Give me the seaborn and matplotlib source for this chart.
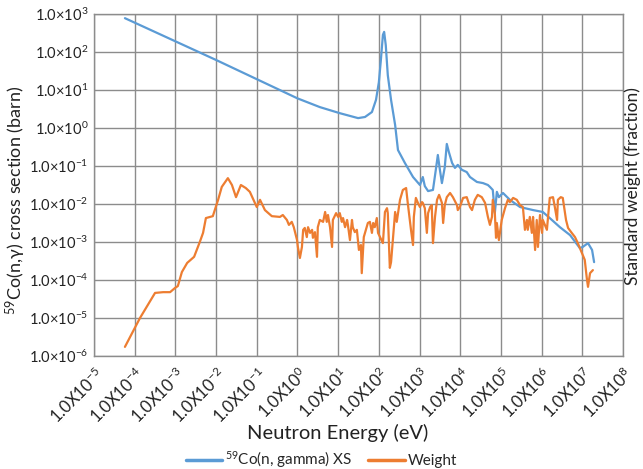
import numpy as np
import pandas as pd
import matplotlib
matplotlib.use("Agg")
import matplotlib.pyplot as plt
import seaborn as sns
from matplotlib.lines import Line2D

# ---- data (log10 values) ----
xs_log_e = [-4.24, -2.0, 0.0, 0.55, 1.04, 1.49, 1.66, 1.83, 1.93, 2.0, 2.05, 2.10, 2.13, 2.17, 2.22,
            2.30, 2.40, 2.47, 2.64, 2.84, 3.01, 3.08, 3.13, 3.21, 3.33, 3.40, 3.45, 3.50, 3.55,
            3.62, 3.67, 3.72, 3.80, 3.87, 3.94, 4.04, 4.16, 4.24, 4.41, 4.56, 4.68, 4.73, 4.80,
            4.85, 4.90, 4.95, 5.05, 5.22, 5.47, 5.79, 6.03, 6.20, 6.45, 6.70, 6.94, 7.01, 7.14,
            7.24, 7.29]
xs_log_v = [2.89, 1.79, 0.78, 0.55, 0.39, 0.26, 0.29, 0.42, 0.74, 1.2, 1.79, 2.45, 2.53, 2.18, 1.39,
            0.74, 0.08, -0.58, -0.92, -1.29, -1.5, -1.29, -1.53, -1.66, -1.63, -1.1, -0.71, -1.1, -1.45,
            -1.03, -0.42, -0.63, -0.92, -1.05, -0.97, -1.1, -1.16, -1.29, -1.42, -1.45, -1.5, -1.55, -1.63,
            -2.24, -1.68, -1.82, -1.71, -1.89, -2.08, -2.16, -2.21, -2.37, -2.61, -2.82, -3.16, -3.13, -3.03,
            -3.21, -3.53]

w_log_e = [-4.24, -3.87, -3.50, -3.30, -3.13, -3.01, -2.94, -2.84, -2.71, -2.54, -2.40, -2.32, -2.25,
           -2.08, -1.95, -1.86, -1.71, -1.61, -1.51, -1.39, -1.27, -1.17, -1.00, -0.92, -0.80, -0.63,
           -0.43, -0.36, -0.26, -0.21, -0.14, -0.09, -0.01, 0.01, 0.06, 0.11, 0.14, 0.18, 0.23, 0.26,
           0.31, 0.36, 0.38, 0.43, 0.48, 0.50, 0.55, 0.63, 0.68, 0.72, 0.75, 0.80, 0.85, 0.87, 0.95,
           1.00, 1.04, 1.09, 1.12, 1.17, 1.22, 1.24, 1.29, 1.34, 1.36, 1.41, 1.46, 1.51, 1.56, 1.58,
           1.63, 1.68, 1.73, 1.78, 1.83, 1.86, 1.90, 1.95, 1.98, 2.03, 2.10, 2.15, 2.20, 2.22, 2.27,
           2.30, 2.35, 2.40, 2.44, 2.52, 2.59, 2.67, 2.71, 2.79, 2.84, 2.86, 2.91, 2.96, 3.01, 3.06,
           3.08, 3.13, 3.18, 3.21, 3.26, 3.30, 3.33, 3.38, 3.43, 3.48, 3.55, 3.58, 3.62, 3.67, 3.75,
           3.82, 3.92, 3.94, 3.99, 4.07, 4.16, 4.24, 4.29, 4.36, 4.43, 4.53, 4.61, 4.68, 4.73, 4.78,
           4.80, 4.85, 4.88, 4.90, 4.95, 5.02, 5.10, 5.17, 5.22, 5.30, 5.39, 5.47, 5.54, 5.59, 5.64,
           5.66, 5.71, 5.76, 5.79, 5.84, 5.88, 5.91, 5.96, 6.01, 6.03, 6.13, 6.20, 6.28, 6.33, 6.38,
           6.40, 6.47, 6.52, 6.60, 6.65, 6.74, 6.82, 6.89, 6.99, 7.06, 7.11, 7.14, 7.19, 7.26]
w_log_v = [-5.76, -5.0, -4.34, -4.32, -4.32, -4.21, -4.16, -3.79, -3.55, -3.39, -3.0, -2.76, -2.37,
           -2.32, -1.89, -1.55, -1.32, -1.5, -1.82, -1.5, -1.58, -1.68, -2.08, -1.89, -2.16, -2.32,
           -2.34, -2.29, -2.42, -2.55, -2.47, -2.61, -2.95, -3.13, -3.42, -3.13, -2.68, -2.63, -2.87, -2.61,
           -2.76, -2.68, -2.89, -2.74, -3.39, -2.61, -2.42, -2.47, -2.21, -2.47, -2.29, -2.61, -3.13, -2.42, -2.24,
           -2.34, -2.24, -2.47, -2.37, -2.61, -2.42, -2.55, -2.95, -2.42, -2.61, -2.74, -2.68, -3.21, -3.08, -3.82,
           -2.87, -2.68, -2.50, -2.47, -2.76, -2.50, -2.61, -2.37, -2.76, -2.87, -3.03, -2.21, -2.11, -2.24, -3.68,
           -3.53, -2.87, -2.21, -2.47, -1.89, -1.63, -1.58, -1.97, -2.68, -3.08, -2.34, -1.84, -1.97, -2.08, -1.95,
           -1.97, -2.11, -2.76, -2.24, -2.08, -2.03, -3.03, -2.34, -1.89, -1.76, -1.97, -2.50, -2.03, -1.82, -1.71,
           -1.82, -2.03, -2.16, -2.08, -1.84, -1.82, -2.08, -2.16, -1.89, -1.76, -1.82, -1.97, -2.34, -2.55, -2.34,
           -1.89, -2.24, -2.89, -2.50, -2.95, -2.42, -2.11, -1.89, -1.95, -1.84, -1.89, -2.03, -2.08, -2.68, -2.42,
           -2.68, -2.34, -2.76, -2.34, -3.21, -2.42, -3.13, -2.29, -2.76, -2.42, -2.68, -1.84, -1.82, -2.11, -2.42,
           -1.89, -1.82, -1.84, -2.42, -2.63, -2.76, -2.87, -3.03, -3.29, -3.47, -3.95, -4.18, -3.82, -3.74]

x_ticks = list(range(-5, 9))
y_ticks = list(range(-6, 4))
xs_label = "$^{59}$Co(n, gamma) XS"
w_label = "Weight"

blue = "#5b9bd5"
orange = "#ed7d31"

sns.set_theme(style="white")
plt.rcParams["font.family"] = ["Lato", "DejaVu Sans"]
plt.rcParams["mathtext.fontset"] = "custom"
plt.rcParams["mathtext.rm"] = "Lato"
plt.rcParams["mathtext.it"] = "Lato:italic"
plt.rcParams["mathtext.bf"] = "Lato:bold"

df_xs = pd.DataFrame({"E": 10.0 ** np.array(xs_log_e), "v": 10.0 ** np.array(xs_log_v)})
df_w = pd.DataFrame({"E": 10.0 ** np.array(w_log_e), "v": 10.0 ** np.array(w_log_v)})

fig = plt.figure(figsize=(6.43, 4.69), dpi=100)
ax = fig.add_axes([94 / 643, 1 - 356 / 469, (623 - 94) / 643, (356 - 14) / 469])

sns.lineplot(data=df_xs, x="E", y="v", ax=ax, color=blue, lw=1.6, sort=False, estimator=None)
sns.lineplot(data=df_w, x="E", y="v", ax=ax, color=orange, lw=1.6, sort=False, estimator=None)
ax.set_xscale("log")
ax.set_yscale("log")
ax.set_xlim(1e-5, 1e8)
ax.set_ylim(1e-6, 1e3)

def sup(k):
    return "%d" % k if k >= 0 else "-%d" % (-k)

ax.set_xticks([10.0 ** k for k in x_ticks])
ax.set_xticklabels([r"1.0X10$^{%s}$" % sup(k) for k in x_ticks],
                   rotation=45, ha="right", rotation_mode="anchor", fontsize=12)
ax.set_yticks([10.0 ** k for k in y_ticks])
ax.set_yticklabels([r"1.0×10$^{%s}$" % sup(k) for k in y_ticks], fontsize=10.5)
ax.minorticks_off()
ax.tick_params(axis="both", length=0, colors="#222222")
ax.tick_params(axis="x", pad=6)
ax.tick_params(axis="y", pad=4)
ax.grid(True, which="major", color="#8c8c8c", lw=1.0)
for s in ax.spines.values():
    s.set_color("#8c8c8c")
    s.set_linewidth(1.0)

ax.set_xlabel("Neutron Energy (eV)", fontsize=14.5, color="#222222")
ax.xaxis.set_label_coords((338 - 94) / 529, -(433 - 356) / 342)
ax.xaxis.label.set_va("center")
ax.set_ylabel("$^{59}$Co(n,γ) cross section (barn)", fontsize=13, color="#222222")
ax.yaxis.set_label_coords((16 - 94) / 529, (356 - 200) / 342)
ax.yaxis.label.set_va("center")

ax2 = ax.twinx()
ax2.set_yticks([])
ax2.set_ylabel("Standard weight (fraction)", fontsize=12.5, color="#222222", rotation=90)
ax2.yaxis.set_label_coords((633 - 94) / 529, (356 - 186) / 342)
ax2.yaxis.label.set_va("center")
for s in ax2.spines.values():
    s.set_visible(False)

handles = [Line2D([0], [0], color=blue, lw=2.5), Line2D([0], [0], color=orange, lw=2.5)]
fig.legend(handles, [xs_label, w_label], loc="center", bbox_to_anchor=(0.5, 1 - 460 / 469), ncol=2,
           frameon=False, fontsize=11, handlelength=2.4, handletextpad=0.2, columnspacing=1.0,
           borderpad=0.1)

fig.savefig("out.png", dpi=100)
